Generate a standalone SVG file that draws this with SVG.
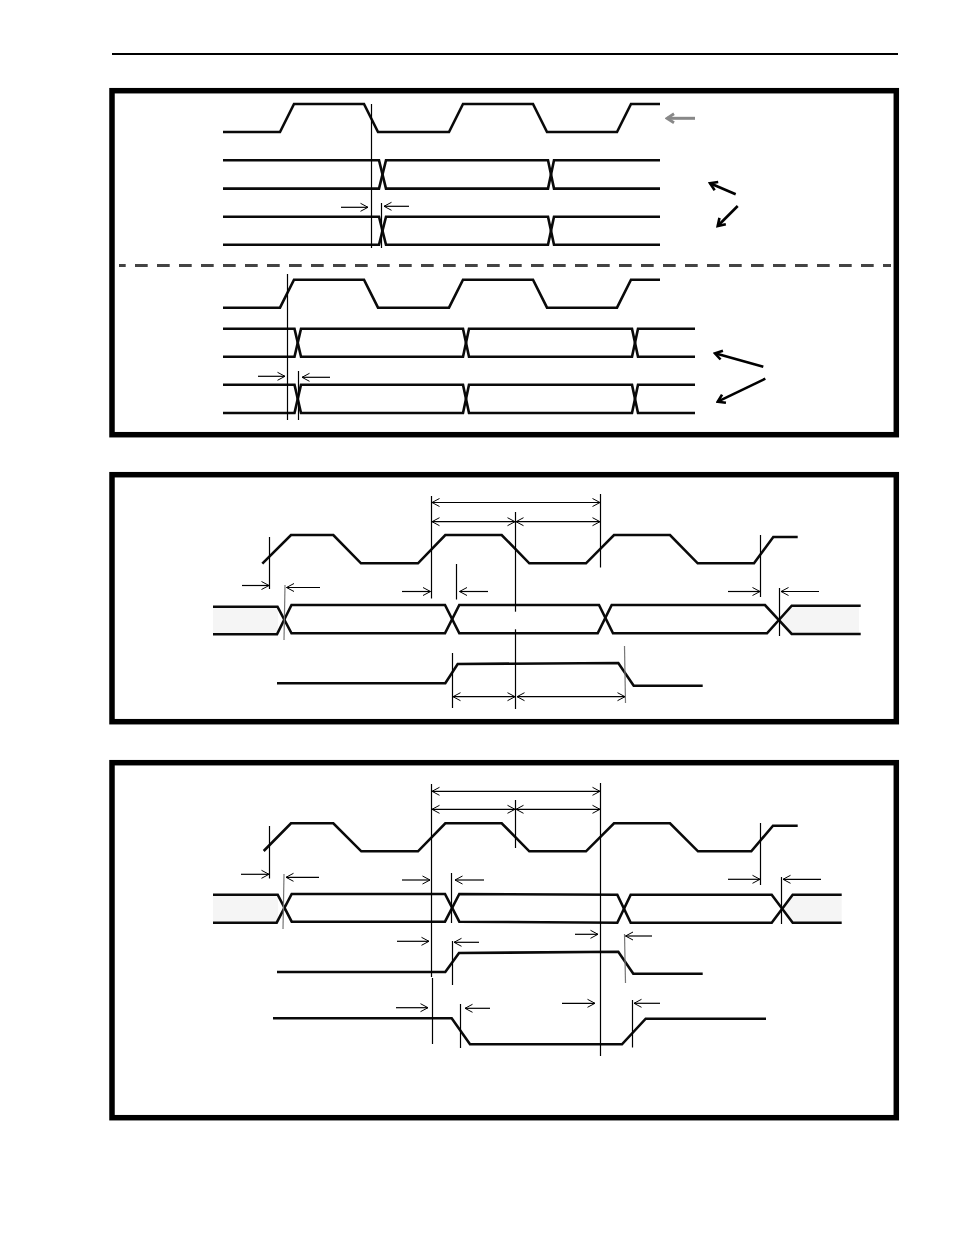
<svg xmlns="http://www.w3.org/2000/svg" width="954" height="1235" viewBox="0 0 954 1235">
<style>
.frame{fill:none;stroke:#000;stroke-width:5.5}
.w{fill:none;stroke:#0a0a0a;stroke-width:2.6;stroke-linejoin:miter}
.v{stroke:#000;stroke-width:1.2;fill:none}
.vg{stroke:#777;stroke-width:1.2;fill:none}
.a{stroke:#000;stroke-width:1.2;fill:none;marker-end:url(#open)}
.d{stroke:#000;stroke-width:1.2;fill:none;marker-end:url(#open);marker-start:url(#open)}
.k{stroke:#000;stroke-width:2.6;fill:none;marker-end:url(#bold)}
.shade{fill:#f5f5f5;stroke:none}
</style>
<defs>
<marker id="open" markerUnits="userSpaceOnUse" markerWidth="10" markerHeight="10" refX="8.5" refY="5" orient="auto-start-reverse" viewBox="0 0 10 10"><path d="M1 1L8.5 5L1 9" fill="none" stroke="#000" stroke-width="1"/></marker>
<marker id="bold" markerUnits="userSpaceOnUse" markerWidth="12" markerHeight="12" refX="10" refY="6" orient="auto" viewBox="0 0 12 12"><path d="M3 1.5L10 6L3 10.5" fill="none" stroke="#000" stroke-width="2.6"/></marker>
<marker id="boldg" markerUnits="userSpaceOnUse" markerWidth="12" markerHeight="12" refX="10" refY="6" orient="auto" viewBox="0 0 12 12"><path d="M3 1.5L10 6L3 10.5" fill="none" stroke="#888" stroke-width="2.8"/></marker>
</defs>
<rect width="954" height="1235" fill="#fff"/>
<line id="header-rule" x1="112" y1="54" x2="898" y2="54" stroke="#000" stroke-width="2"/>
<rect id="frame-1" class="frame" x="112" y="90.7" width="784.3" height="344"/>
<rect id="frame-2" class="frame" x="112" y="474.7" width="784.3" height="247"/>
<rect id="frame-3" class="frame" x="112" y="762.7" width="784.3" height="355"/>
<line id="divider" x1="119" y1="265.5" x2="891" y2="265.5" stroke="#444" stroke-width="3" stroke-dasharray="12.7 9.3" stroke-dashoffset="6"/>

<g id="panel-1-waves">
<path class="w" d="M223 132H280L294 104H364L378 132H449L463 104H533L547 132H617L631 104H660"/>
<path class="w" d="M223 160.3H379L386 188.6H548L554 160.3H660"/>
<path class="w" d="M223 188.6H379L386 160.3H548L554 188.6H660"/>
<path class="w" d="M223 216.7H379L386 244.7H548L554 216.7H660"/>
<path class="w" d="M223 244.7H379L386 216.7H548L554 244.7H660"/>
<path class="w" d="M223 307.7H280L294 279.7H364L378 307.7H449L463 279.7H533L547 307.7H617L631 279.7H660"/>
<path class="w" d="M223 328.7H294.5L301 356.7H463L469 328.7H632L638 356.7H695"/>
<path class="w" d="M223 356.7H294.5L301 328.7H463L469 356.7H632L638 328.7H695"/>
<path class="w" d="M223 384.7H294.5L301 413H463L469 384.7H632L638 413H695"/>
<path class="w" d="M223 413H294.5L301 384.7H463L469 413H632L638 384.7H695"/>
</g>
<g id="panel-2-waves">
<rect class="shade" x="213" y="607" width="65" height="27"/>
<path class="shade" d="M791 606H859V634H792L779 620Z"/>
<path class="w" d="M262.3 563.7L291 535H333.3L361 563.3H418L445.3 535H501.7L529.3 563.3H586L614 535H670L697.7 563.3H754L773.3 537H797.7"/>
<path class="w" d="M213 606.7H277.5L291.5 633.3H445L459.3 605H599L613 633.3H767L791.7 605.7H860.7"/>
<path class="w" d="M213 634.3H277L291.5 605H445L459.3 633.3H597.7L611.7 605H765L791.7 634H860.7"/>
<path class="w" d="M277 683.3H445.3L457.7 664L618.3 663L633.7 685.7H702.7"/>
</g>
<g id="panel-3-waves">
<rect class="shade" x="213" y="895" width="65" height="27.5"/>
<path class="shade" d="M792 895H841.7V922.7H792L781 909Z"/>
<path class="w" d="M263.7 851L291 823.3H333.3L361.3 851.3H418L445.3 823.3H501.7L529.3 851.3H586L614 823.3H670L698 851.3H751.3L773 825.7H797.7"/>
<path class="w" d="M213 894.7H277.7L291.7 921.7H445L459.3 894L617.3 894.7L630.7 922.7H771.7L792.7 894.7H841.7"/>
<path class="w" d="M213 922.7H276.7L291.7 894H445L459.3 921.7L617.3 922.7L630.7 894.7H771.7L792.7 922.7H841.7"/>
<path class="w" d="M277 972H445.3L459 953L618.3 951.7L633.3 973.7H702.7"/>
<path class="w" d="M273 1018.3H451.7L470 1044.3H622L645.7 1018.7H766"/>
</g>
<g id="connectors">
<line class="v" x1="371.5" y1="104" x2="371.5" y2="248"/>
<line class="v" x1="381.5" y1="203" x2="381.5" y2="248"/>
<line class="a" x1="341" y1="207.3" x2="368" y2="207.3"/>
<line class="a" x1="409" y1="206.3" x2="384" y2="206.3"/>
<line class="v" x1="287.5" y1="274" x2="287.5" y2="420"/>
<line class="v" x1="298.5" y1="371" x2="298.5" y2="420"/>
<line class="a" x1="258" y1="376.3" x2="285" y2="376.3"/>
<line class="a" x1="330" y1="377.3" x2="302" y2="377.3"/>
<line x1="695" y1="118.3" x2="667" y2="118.3" stroke="#888" stroke-width="3" marker-end="url(#boldg)"/>
<line class="k" x1="735.7" y1="194.3" x2="710" y2="183.3"/>
<line class="k" x1="737.7" y1="206" x2="717.7" y2="226"/>
<line class="k" x1="763.3" y1="366.7" x2="715" y2="353.3"/>
<line class="k" x1="765.3" y1="378.7" x2="717.7" y2="401.7"/>

<line class="v" x1="431.5" y1="496" x2="431.5" y2="598.5"/>
<line class="v" x1="515.5" y1="512" x2="515.5" y2="611.7"/>
<line class="v" x1="515.5" y1="629.3" x2="515.5" y2="709"/>
<line class="v" x1="600.5" y1="494" x2="600.5" y2="567.5"/>
<line class="v" x1="269.5" y1="537" x2="269.5" y2="589"/>
<line class="vg" x1="285" y1="585" x2="284" y2="640"/>
<line class="v" x1="456.5" y1="564" x2="456.5" y2="599.5"/>
<line class="v" x1="452.5" y1="653" x2="452.5" y2="708"/>
<line class="vg" x1="624.5" y1="646" x2="625.5" y2="703"/>
<line class="v" x1="760.5" y1="535" x2="760.5" y2="597"/>
<line class="v" x1="779.5" y1="588" x2="779.5" y2="636"/>
<line class="d" x1="432" y1="502.5" x2="600" y2="502.5"/>
<line class="d" x1="432" y1="521.7" x2="515" y2="521.7"/>
<line class="d" x1="516" y1="521.7" x2="600" y2="521.7"/>
<line class="a" x1="242" y1="585.5" x2="269" y2="585.5"/>
<line class="a" x1="320" y1="587.5" x2="286.5" y2="587.5"/>
<line class="a" x1="402" y1="591.5" x2="430.5" y2="591.5"/>
<line class="a" x1="488" y1="591.5" x2="459.5" y2="591.5"/>
<line class="a" x1="728" y1="591.5" x2="760" y2="591.5"/>
<line class="a" x1="819" y1="591.5" x2="781" y2="591.5"/>
<line class="d" x1="453" y1="696.7" x2="515" y2="696.7"/>
<line class="d" x1="517" y1="696.7" x2="625" y2="696.7"/>

<line class="v" x1="431.5" y1="784" x2="431.5" y2="977"/>
<line class="v" x1="432.5" y1="978" x2="432.5" y2="1044"/>
<line class="v" x1="515.5" y1="800" x2="515.5" y2="848"/>
<line class="v" x1="600.5" y1="783" x2="600.5" y2="1056"/>
<line class="v" x1="269.5" y1="826" x2="269.5" y2="878.5"/>
<line class="vg" x1="284" y1="874" x2="283" y2="929"/>
<line class="v" x1="451.5" y1="873" x2="451.5" y2="923"/>
<line class="v" x1="452.5" y1="941" x2="452.5" y2="985"/>
<line class="v" x1="460.5" y1="1004" x2="460.5" y2="1048"/>
<line class="vg" x1="624.5" y1="934" x2="625.5" y2="983"/>
<line class="v" x1="632.5" y1="1000" x2="632.5" y2="1047.5"/>
<line class="v" x1="760.5" y1="823" x2="760.5" y2="885"/>
<line class="v" x1="781.5" y1="877" x2="781.5" y2="924"/>
<line class="d" x1="432" y1="791.3" x2="600" y2="791.3"/>
<line class="d" x1="432" y1="809.3" x2="515" y2="809.3"/>
<line class="d" x1="516" y1="809.3" x2="600" y2="809.3"/>
<line class="a" x1="241" y1="874.3" x2="269" y2="874.3"/>
<line class="a" x1="319" y1="877.3" x2="286" y2="877.3"/>
<line class="a" x1="402" y1="880" x2="430" y2="880"/>
<line class="a" x1="484" y1="880" x2="455" y2="880"/>
<line class="a" x1="397" y1="941.3" x2="429" y2="941.3"/>
<line class="a" x1="479" y1="942.3" x2="454" y2="942.3"/>
<line class="a" x1="396" y1="1007.7" x2="428" y2="1007.7"/>
<line class="a" x1="490" y1="1008.3" x2="465" y2="1008.3"/>
<line class="a" x1="575" y1="934.3" x2="598" y2="934.3"/>
<line class="a" x1="652" y1="936" x2="625.5" y2="936"/>
<line class="a" x1="562" y1="1003.3" x2="595" y2="1003.3"/>
<line class="a" x1="660" y1="1003.3" x2="634" y2="1003.3"/>
<line class="a" x1="728" y1="879.3" x2="760" y2="879.3"/>
<line class="a" x1="821" y1="879.3" x2="783" y2="879.3"/>
</g>
</svg>
